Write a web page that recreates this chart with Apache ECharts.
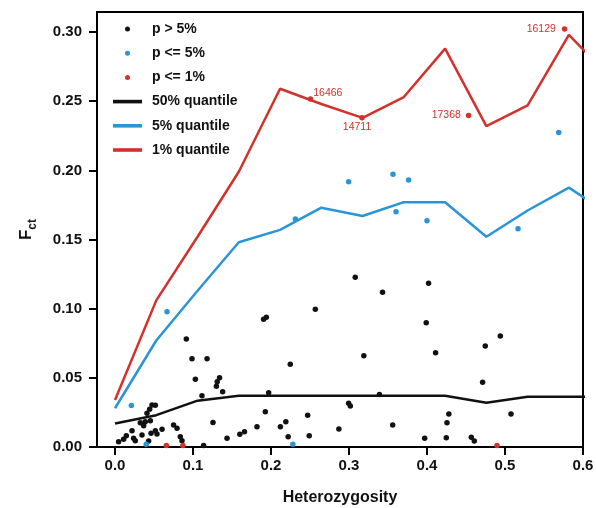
<!DOCTYPE html>
<html>
<head>
<meta charset="utf-8">
<script src="https://cdn.jsdelivr.net/npm/echarts@6/dist/echarts.min.js"></script>
<style>
  html, body { margin: 0; padding: 0; background: #fff; }
  #chart { width: 596px; height: 508px; }
</style>
</head>
<body>
<div id="chart"></div>
<script>
// quantile curves, evaluated on a regular heterozygosity grid (last knot lies past the frame)
var knots = [0, 0.0529, 0.1058, 0.1587, 0.2116, 0.2645, 0.3174, 0.3703, 0.4232, 0.4761, 0.529, 0.5819, 0.6348];
var q50 = [0.017, 0.023, 0.0335, 0.037, 0.037, 0.037, 0.037, 0.037, 0.037, 0.032, 0.0364, 0.0364, 0.0364];
var q05 = [0.028, 0.077, 0.113, 0.148, 0.157, 0.173, 0.167, 0.177, 0.177, 0.152, 0.171, 0.1875, 0.168];
var q01 = [0.034, 0.106, 0.152, 0.199, 0.259, 0.248, 0.238, 0.253, 0.288, 0.232, 0.247, 0.298, 0.267];

// loci, p > 5%
var nsX = [0.0046, 0.011, 0.0145, 0.0218, 0.0238, 0.026, 0.0324, 0.0346, 0.0367, 0.0388, 0.041, 0.0431, 0.0444, 0.0453, 0.0462,
  0.0474, 0.0517, 0.0517, 0.0538, 0.0603, 0.0751, 0.0795, 0.0837, 0.0859, 0.0914, 0.0987, 0.103, 0.1115, 0.1136, 0.118,
  0.1256, 0.130, 0.131, 0.134, 0.138, 0.1436, 0.16, 0.166, 0.182, 0.1905, 0.194, 0.1927, 0.197, 0.212, 0.219,
  0.222, 0.2247, 0.247, 0.249, 0.2568, 0.287, 0.2995, 0.3017, 0.308, 0.319, 0.339, 0.343, 0.356, 0.397, 0.399,
  0.402, 0.411, 0.4247, 0.4256, 0.428, 0.4568, 0.4606, 0.4713, 0.4747, 0.494, 0.5077];
var nsY = [0.0038, 0.0056, 0.0082, 0.0118, 0.0063, 0.0046, 0.0176, 0.0087, 0.0154, 0.0183, 0.0244, 0.0043, 0.0273, 0.019, 0.0099,
  0.0304, 0.0302, 0.0118, 0.0094, 0.0128, 0.0159, 0.0135, 0.0075, 0.0046, 0.078, 0.0638, 0.049, 0.037, 0.001, 0.0638,
  0.0178, 0.044, 0.0472, 0.050, 0.040, 0.0063, 0.0092, 0.011, 0.0147, 0.0923, 0.0938, 0.0255, 0.0393, 0.0147, 0.0183,
  0.0075, 0.0598, 0.0229, 0.0082, 0.0996, 0.013, 0.0316, 0.0296, 0.1227, 0.066, 0.038, 0.1118, 0.0159, 0.0063, 0.0899,
  0.1183, 0.0682, 0.0067, 0.0176, 0.0239, 0.007, 0.0043, 0.0468, 0.073, 0.0803, 0.0239];

// loci, p <= 5%
var p5X = [0.021, 0.040, 0.0667, 0.228, 0.2312, 0.2995, 0.3564, 0.3603, 0.3764, 0.40, 0.5167, 0.5688];
var p5Y = [0.030, 0.002, 0.0978, 0.002, 0.1649, 0.1918, 0.1972, 0.170, 0.193, 0.1636, 0.1578, 0.2273];

// loci, p <= 1%
var p1X = [0.0658, 0.087, 0.4897, 0.2506, 0.3167, 0.4533, 0.5764];
var p1Y = [0.001, 0.001, 0.001, 0.2516, 0.238, 0.2396, 0.3022];
var p1Names = ['', '', '', '16466', '14711', '17368', '16129'];

var xTicks = [0, 0.1, 0.2, 0.3, 0.4, 0.5, 0.6];
var yTicks = [0, 0.05, 0.10, 0.15, 0.20, 0.25, 0.30];

var RED = '#d3312b', BLUE = '#2a95d6', BLACK = '#111';
var FONT = 'Liberation Sans, Arial, sans-serif';

function zip(xs, ys) {
  return xs.map(function (x, i) { return [x, ys[i]]; });
}

// where each locus id sits relative to its dot
var idLabel = {
  '16466': { position: 'right', distance: 0, offset: [0, -6] },
  '14711': { position: 'bottom', distance: 1, offset: [-5, 0] },
  '17368': { position: 'left', distance: 5 },
  '16129': { position: 'left', distance: 6 }
};

var redData = p1X.map(function (x, i) {
  var item = { value: [x, p1Y[i]], name: p1Names[i] };
  if (p1Names[i]) {
    item.label = Object.assign({ show: true, formatter: '{b}' }, idLabel[p1Names[i]]);
  }
  return item;
});

// small dot in the middle of a 29x14 legend box (the bare moves pin the box size)
var DOT = 'path://M0,0M29,14M12,7a2.5,2.5 0 1,0 5,0a2.5,2.5 0 1,0 -5,0z';
var BAR = 'path://M0,0M29,14M0,5.2L29,5.2L29,8.8L0,8.8z';

var chart = echarts.init(document.getElementById('chart'), null, { renderer: 'canvas' });
chart.setOption({
  animation: false,
  backgroundColor: '#fff',
  grid: {
    left: 97, right: 13, top: 12, bottom: 61, outerBoundsMode: 'none',
    show: true, borderColor: '#000', borderWidth: 2
  },
  legend: {
    data: [
      { name: 'p > 5%', icon: DOT }, { name: 'p <= 5%', icon: DOT }, { name: 'p <= 1%', icon: DOT },
      { name: '50% quantile', icon: BAR }, { name: '5% quantile', icon: BAR }, { name: '1% quantile', icon: BAR }
    ],
    orient: 'vertical', left: 113, top: 22, padding: 0,
    itemWidth: 29, itemHeight: 14, itemGap: 10.2,
    selectedMode: false,
    textStyle: { fontFamily: FONT, fontSize: 14, fontWeight: 'bold', color: '#111', lineHeight: 14, padding: [0, 0, 0, 5] }
  },
  xAxis: {
    type: 'value', min: -0.0231, max: 0.6,
    name: 'Heterozygosity', nameLocation: 'middle', nameGap: 43,
    nameTextStyle: { fontFamily: FONT, fontSize: 16, fontWeight: 'bold', color: '#111' },
    axisLine: { onZero: false, lineStyle: { color: '#000', width: 2 } },
    axisTick: { customValues: xTicks, length: 8, lineStyle: { color: '#000', width: 2 } },
    axisLabel: {
      customValues: xTicks, margin: 11, fontFamily: FONT, fontSize: 15, fontWeight: 'bold', color: '#111',
      formatter: function (v) { return v.toFixed(1); }
    },
    splitLine: { show: false }
  },
  yAxis: {
    type: 'value', min: 0, max: 0.3145,
    name: '{f|F}{s|ct}', nameLocation: 'middle', nameGap: 58, nameRotate: 90,
    nameTextStyle: {
      rich: {
        f: { fontFamily: FONT, fontSize: 17, fontWeight: 'bold', color: '#111', verticalAlign: 'top', lineHeight: 17 },
        s: { fontFamily: FONT, fontSize: 12, fontWeight: 'bold', color: '#111', verticalAlign: 'bottom', lineHeight: 21 }
      }
    },
    axisLine: { show: true, onZero: false, lineStyle: { color: '#000', width: 2 } },
    axisTick: { show: true, customValues: yTicks, length: 8, lineStyle: { color: '#000', width: 2 } },
    axisLabel: {
      customValues: yTicks, margin: 15, fontFamily: FONT, fontSize: 15, fontWeight: 'bold', color: '#111',
      formatter: function (v) { return v.toFixed(2); }
    },
    splitLine: { show: false }
  },
  series: [{
    name: 'p > 5%', type: 'scatter', data: zip(nsX, nsY), symbolSize: 5.5,
    itemStyle: { color: BLACK, opacity: 1 }
  }, {
    name: 'p <= 5%', type: 'scatter', data: zip(p5X, p5Y), symbolSize: 5.5,
    itemStyle: { color: BLUE, opacity: 1 }
  }, {
    name: 'p <= 1%', type: 'scatter', data: redData, symbolSize: 5.5,
    itemStyle: { color: RED, opacity: 1 },
    label: { fontFamily: FONT, fontSize: 10.5, color: RED }
  }, {
    name: '50% quantile', type: 'line', data: zip(knots, q50), symbol: 'none',
    lineStyle: { color: BLACK, width: 2.5 }, itemStyle: { color: BLACK }, z: 3
  }, {
    name: '5% quantile', type: 'line', data: zip(knots, q05), symbol: 'none',
    lineStyle: { color: BLUE, width: 2.5 }, itemStyle: { color: BLUE }, z: 3
  }, {
    name: '1% quantile', type: 'line', data: zip(knots, q01), symbol: 'none',
    lineStyle: { color: RED, width: 2.5 }, itemStyle: { color: RED }, z: 3
  }]
});
</script>
</body>
</html>
